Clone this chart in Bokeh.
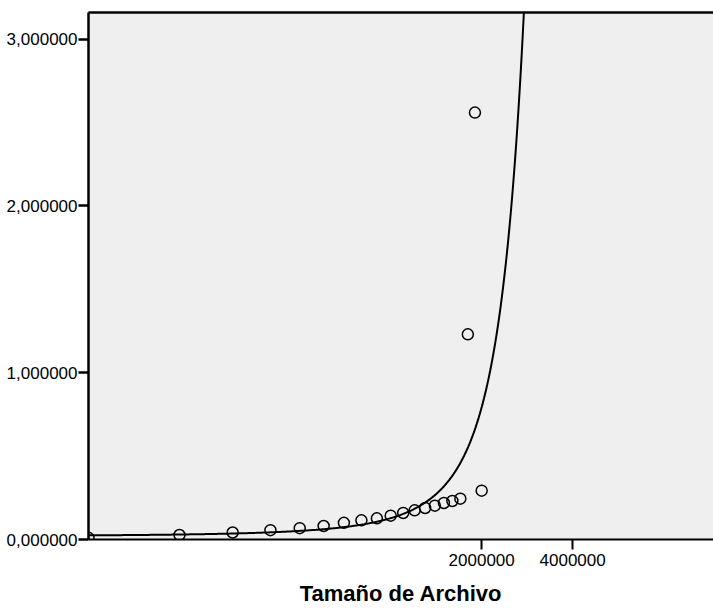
import numpy as np
from bokeh.plotting import figure
from bokeh.models import LogAxis, FixedTicker, Range1d
from bokeh.embed import file_html
from bokeh.resources import INLINE

# ---- data ----
file_size = [100000, 200000, 300000, 400000, 500000, 600000, 700000, 800000, 900000, 1000000,
             1100000, 1200000, 1300000, 1400000, 1500000, 1600000, 1700000, 1800000, 1900000, 2000000]
time_val = [0.010, 0.027, 0.042, 0.056, 0.068, 0.081, 0.100, 0.115, 0.127, 0.143,
            0.159, 0.175, 0.189, 0.203, 0.219, 0.231, 0.245, 1.230, 2.560, 0.293]

x_ticks = [2000000, 4000000]
x_tick_labels = ["2000000", "4000000"]
y_ticks = [0, 1, 2, 3]
y_tick_labels = ["0,000000", "1,000000", "2,000000", "3,000000"]
x_title = "Tamaño de Archivo"

X_START, X_END = 1e5, 1.17e7
Y_START, Y_END = 0.0, 3.16

# exponential fit (ln y = ln a + b x), as a curve-estimation model of the data
xs = np.array(file_size, dtype=float)
ys = np.array(time_val, dtype=float)
b, ln_a = np.polyfit(xs, np.log(ys), 1)
fit_x = np.logspace(np.log10(X_START), np.log10(X_END), 600)
fit_y = np.exp(ln_a) * np.exp(b * fit_x)

FONT = "Liberation Sans"

p = figure(width=713, height=608, x_axis_type="log",
           x_range=Range1d(X_START, X_END), y_range=Range1d(Y_START, Y_END),
           output_backend="svg", toolbar_location=None,
           min_border_left=88, min_border_right=0, min_border_top=12, min_border_bottom=0)

p.background_fill_color = "#efefef"
p.border_fill_color = "white"
p.outline_line_color = None
p.xgrid.visible = False
p.ygrid.visible = False

p.line(fit_x, fit_y, line_color="black", line_width=2)
p.scatter(file_size, time_val, size=11, fill_color=None, line_color="black", line_width=1.5)

# x axis
xa = p.xaxis[0]
xa.ticker = FixedTicker(ticks=x_ticks)
xa.major_label_overrides = dict(zip(x_ticks, x_tick_labels))
xa.minor_tick_line_color = None
xa.major_tick_in = 0
xa.major_tick_out = 10
xa.major_tick_line_width = 2
xa.major_tick_line_color = "black"
xa.axis_line_width = 2
xa.axis_line_color = "black"
xa.major_label_text_font = FONT
xa.major_label_text_font_size = "17px"
xa.major_label_text_color = "black"
xa.major_label_standoff = 4
xa.axis_label = x_title
xa.axis_label_text_font = FONT
xa.axis_label_text_font_size = "22px"
xa.axis_label_text_font_style = "bold"
xa.axis_label_text_color = "black"
xa.axis_label_standoff = 12

# y axis
ya = p.yaxis[0]
ya.ticker = FixedTicker(ticks=y_ticks)
ya.major_label_overrides = dict(zip(y_ticks, y_tick_labels))
ya.minor_tick_line_color = None
ya.major_tick_in = 0
ya.major_tick_out = 10
ya.major_tick_line_width = 2.5
ya.major_tick_line_color = "black"
ya.axis_line_width = 2.5
ya.axis_line_color = "black"
ya.major_label_text_font = FONT
ya.major_label_text_font_size = "17px"
ya.major_label_text_color = "black"
ya.major_label_standoff = 1

# top border line
top = LogAxis(ticker=FixedTicker(ticks=[]), axis_line_width=2.5, axis_line_color="black",
              major_tick_line_color=None, minor_tick_line_color=None,
              major_label_text_font_size="0px")
p.add_layout(top, "above")

open("out.html", "w").write(file_html(p, INLINE))
